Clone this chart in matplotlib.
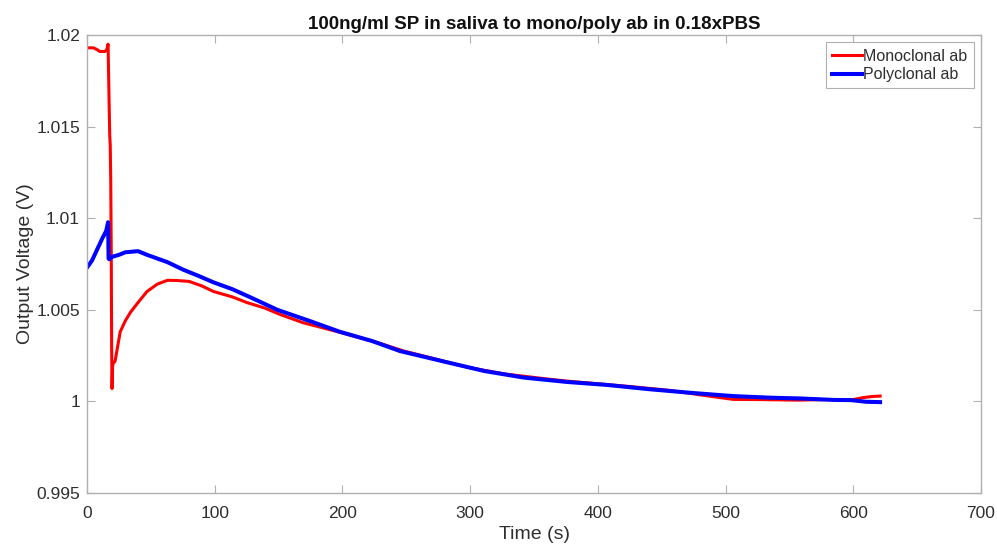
import matplotlib.pyplot as plt
from matplotlib.ticker import FuncFormatter

# ------------------ DATA ------------------
mono_t = [0, 5, 8, 10, 12, 14, 15.5, 16.5, 17.4, 17.8, 18.2, 18.6, 19.0, 19.3, 19.6,
          20.1, 20.8, 22, 24, 26, 30, 34, 40, 47, 55, 63, 70, 80, 90, 99, 114, 125,
          139, 151, 169, 198, 228, 248, 268, 298, 327, 357, 377, 397, 427, 456,
          486, 506, 526, 556, 580, 598, 607, 615, 621]
mono_v = [1.0193, 1.0193, 1.0192, 1.0191, 1.0191, 1.0191, 1.0192, 1.0195, 1.0160,
          1.0145, 1.0140, 1.0120, 1.0080, 1.0030, 1.0007, 1.0020, 1.0021, 1.0022,
          1.0030, 1.0038, 1.0044, 1.00486, 1.0054, 1.0060, 1.0064, 1.00661, 1.0066,
          1.00655, 1.0063, 1.0060, 1.0057, 1.0054, 1.0051, 1.00475, 1.0043, 1.00377,
          1.0032, 1.00275, 1.0024, 1.00186, 1.0015, 1.00125, 1.0011, 1.00098, 1.0008,
          1.0006, 1.0003, 1.00011, 1.0001, 1.00007, 1.0001, 1.00007, 1.0002,
          1.00027, 1.00029]

poly_t = [0, 4, 8, 12, 15, 16.5, 16.9, 17.4, 20, 25, 30, 40, 47, 55, 63, 75, 88,
          99, 114, 128, 149, 174, 198, 223, 245, 278, 311, 342, 376, 407, 441,
          476, 506, 536, 559, 585, 598, 610, 621]
poly_v = [1.0073, 1.0077, 1.0083, 1.0089, 1.0093, 1.00978, 1.0078, 1.00776, 1.0079,
          1.0080, 1.00814, 1.0082, 1.0080, 1.0078, 1.0076, 1.0072, 1.00683, 1.0065,
          1.00612, 1.00568, 1.0050, 1.0044, 1.0038, 1.0033, 1.00275, 1.0022,
          1.00166, 1.0013, 1.00106, 1.0009, 1.00066, 1.00045, 1.00029, 1.0002,
          1.00016, 1.00008, 1.00007, 0.99998, 0.99996]

x_ticks = [0, 100, 200, 300, 400, 500, 600, 700]
y_ticks = [0.995, 1.0, 1.005, 1.01, 1.015, 1.02]

# ------------------ PLOT ------------------
plt.rcParams['font.family'] = ['Liberation Sans', 'DejaVu Sans']
grey_txt = '#2e2e2e'
grey_ax = '#b0b0b0'

W, H = 997, 546
fig = plt.figure(figsize=(W / 100, H / 100), dpi=100)
# axes box in pixels: left 87, right 981, top 35, bottom 493
ax = fig.add_axes([87 / W, 1 - 493 / H, (981 - 87) / W, (493 - 35) / H])

ax.plot(mono_t, mono_v, color='red', lw=2.2, label='Monoclonal ab')
ax.plot(poly_t, poly_v, color='blue', lw=2.9, label='Polyclonal ab')

ax.set_xlim(0, 700)
ax.set_ylim(0.995, 1.02)
ax.set_xticks(x_ticks)
ax.set_yticks(y_ticks)
ax.yaxis.set_major_formatter(FuncFormatter(lambda v, p: f"{v:g}"))

ax.tick_params(direction='in', top=True, right=True, length=6, width=0.8,
               color=grey_ax, labelcolor=grey_txt, labelsize=12.5)
ax.tick_params(axis='x', pad=9)
ax.tick_params(axis='y', pad=5)
for s in ax.spines.values():
    s.set_color(grey_ax)
    s.set_linewidth(1.0)

ax.set_title('100ng/ml SP in saliva to mono/poly ab in 0.18xPBS',
             fontsize=13.5, fontweight='bold', color='#111111', pad=4)
ax.set_xlabel('Time (s)', fontsize=14, color=grey_txt, labelpad=4)
ax.set_ylabel('Output Voltage (V)', fontsize=14, color=grey_txt, labelpad=1.5)

leg = ax.legend(loc='upper right', fontsize=11.5, handlelength=1.85,
                handletextpad=0.1, borderpad=0.4, labelspacing=0.22,
                fancybox=False, framealpha=1, borderaxespad=0.45)
leg.get_frame().set_edgecolor(grey_ax)
leg.get_frame().set_linewidth(0.8)
for t in leg.get_texts():
    t.set_color(grey_txt)

plt.savefig('out.png', dpi=100)
